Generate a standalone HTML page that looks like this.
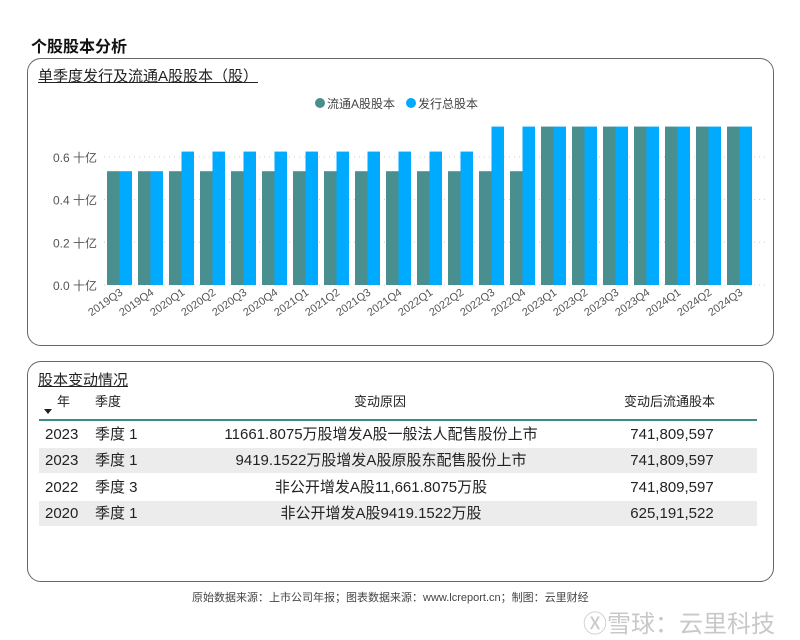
<!DOCTYPE html>
<html><head><meta charset="utf-8">
<style>
body{margin:0;width:800px;height:640px;background:#fff;font-family:"Liberation Sans","Noto Sans CJK SC",sans-serif;position:relative;overflow:hidden;color:#222}
.abs{position:absolute}
.panel{position:absolute;border:1.5px solid #666;border-radius:14px;box-sizing:border-box}
.row{position:absolute;left:39px;width:718px;height:25px;font-size:15px;line-height:25px}
.row span{position:absolute;white-space:nowrap}
</style></head><body>
<div class="abs" style="left:31px;top:33px;font-size:16px;font-weight:bold;color:#111">个股股本分析</div>
<div class="panel" style="left:27px;top:58px;width:747px;height:288px"></div>
<div class="abs" style="left:38px;top:65px;font-size:15px;text-decoration:underline;color:#222">单季度发行及流通A股股本（股）</div>
<svg class="abs" style="left:0;top:0" width="800" height="360" id="chart"></svg>
<div class="panel" style="left:27px;top:361px;width:747px;height:221px"></div>
<div class="abs" style="left:38px;top:369px;font-size:15px;text-decoration:underline;color:#222">股本变动情况</div>
<div class="row" style="top:389px;font-size:13px">
 <span style="left:18px">年</span>
 <span style="left:56px">季度</span>
 <span style="left:315px">变动原因</span>
 <span style="left:585px">变动后流通股本</span>
</div>
<div class="abs" style="left:44px;top:409px;width:0;height:0;border-left:4px solid transparent;border-right:4px solid transparent;border-top:5px solid #222"></div>
<div class="abs" style="left:39px;top:419px;width:718px;height:1.5px;background:#3d8a8a"></div>
<div class="row" style="top:422px"><span style="left:6px">2023</span><span style="left:56px">季度 1</span><span style="left:152px;width:380px;text-align:center">11661.8075万股增发A股一般法人配售股份上市</span><span style="left:585px;width:96px;text-align:center">741,809,597</span></div>
<div class="row" style="top:448px;background:#ececec"><span style="left:6px">2023</span><span style="left:56px">季度 1</span><span style="left:152px;width:380px;text-align:center">9419.1522万股增发A股原股东配售股份上市</span><span style="left:585px;width:96px;text-align:center">741,809,597</span></div>
<div class="row" style="top:475px"><span style="left:6px">2022</span><span style="left:56px">季度 3</span><span style="left:152px;width:380px;text-align:center">非公开增发A股11,661.8075万股</span><span style="left:585px;width:96px;text-align:center">741,809,597</span></div>
<div class="row" style="top:501px;background:#ececec"><span style="left:6px">2020</span><span style="left:56px">季度 1</span><span style="left:152px;width:380px;text-align:center">非公开增发A股9419.1522万股</span><span style="left:585px;width:96px;text-align:center">625,191,522</span></div>
<div class="abs" style="left:192px;top:589px;font-size:11px;color:#444">原始数据来源：上市公司年报；图表数据来源：www.lcreport.cn；制图：云里财经</div>
<div class="abs" style="left:583px;top:604px;font-size:24px;color:#c8c8c8">Ⓧ雪球：云里科技</div>
<script>
const categories=["2019Q3","2019Q4","2020Q1","2020Q2","2020Q3","2020Q4","2021Q1","2021Q2","2021Q3","2021Q4","2022Q1","2022Q2","2022Q3","2022Q4","2023Q1","2023Q2","2023Q3","2023Q4","2024Q1","2024Q2","2024Q3"];
const circulating=[0.533,0.533,0.533,0.533,0.533,0.533,0.533,0.533,0.533,0.533,0.533,0.533,0.533,0.533,0.742,0.742,0.742,0.742,0.742,0.742,0.742];
const issued=[0.533,0.533,0.625,0.625,0.625,0.625,0.625,0.625,0.625,0.625,0.625,0.625,0.742,0.742,0.742,0.742,0.742,0.742,0.742,0.742,0.742];
const yTicks=[0,0.2,0.4,0.6];
const yTickLabels=["0.0 十亿","0.2 十亿","0.4 十亿","0.6 十亿"];
const svg=document.getElementById('chart');
const NS='http://www.w3.org/2000/svg';
const x0=104,step=31,bw=12.5,y0=285,yScale=213.5;
const y=v=>y0-v*yScale;
const xc=i=>x0+step*i+step/2;
function mk(tag,attrs){const e=document.createElementNS(NS,tag);for(const k in attrs)e.setAttribute(k,attrs[k]);svg.appendChild(e);return e;}
yTicks.forEach((t,i)=>{
 const g=mk('line',{x1:x0,x2:765,y1:y(t),y2:y(t),stroke:'#ccc','stroke-dasharray':'1 4'});
 
 
 const tx=mk('text',{x:97,y:y(t)+5,'text-anchor':'end','font-size':12,fill:'#555','font-family':'Liberation Sans, Noto Sans CJK SC, sans-serif'});
 tx.textContent=yTickLabels[i];
 
 
});
categories.forEach((c,i)=>{
 const cx=xc(i);
 const b1=mk('rect',{x:cx-bw,y:y(circulating[i]),width:bw,height:circulating[i]*yScale,fill:'#4a8f8f'});
 
 
 const b2=mk('rect',{x:cx,y:y(issued[i]),width:bw,height:issued[i]*yScale,fill:'#00aaff'});
 
 
 const t=mk('text',{x:cx+4,y:294,'text-anchor':'end','font-size':11,fill:'#555','font-family':'Liberation Sans, sans-serif',transform:`rotate(-35 ${cx+4} 294)`});
 t.textContent=c;
 
 
});
const l1=mk('circle',{cx:320,cy:103,r:5,fill:'#4a8f8f'});


const lt1=mk('text',{x:327,y:108,'font-size':12,fill:'#444','font-family':'Liberation Sans, Noto Sans CJK SC, sans-serif'});
lt1.textContent='流通A股股本';


const l2=mk('circle',{cx:411,cy:103,r:5,fill:'#00aaff'});


const lt2=mk('text',{x:418,y:108,'font-size':12,fill:'#444','font-family':'Liberation Sans, Noto Sans CJK SC, sans-serif'});
lt2.textContent='发行总股本';


</script>
</body></html>
